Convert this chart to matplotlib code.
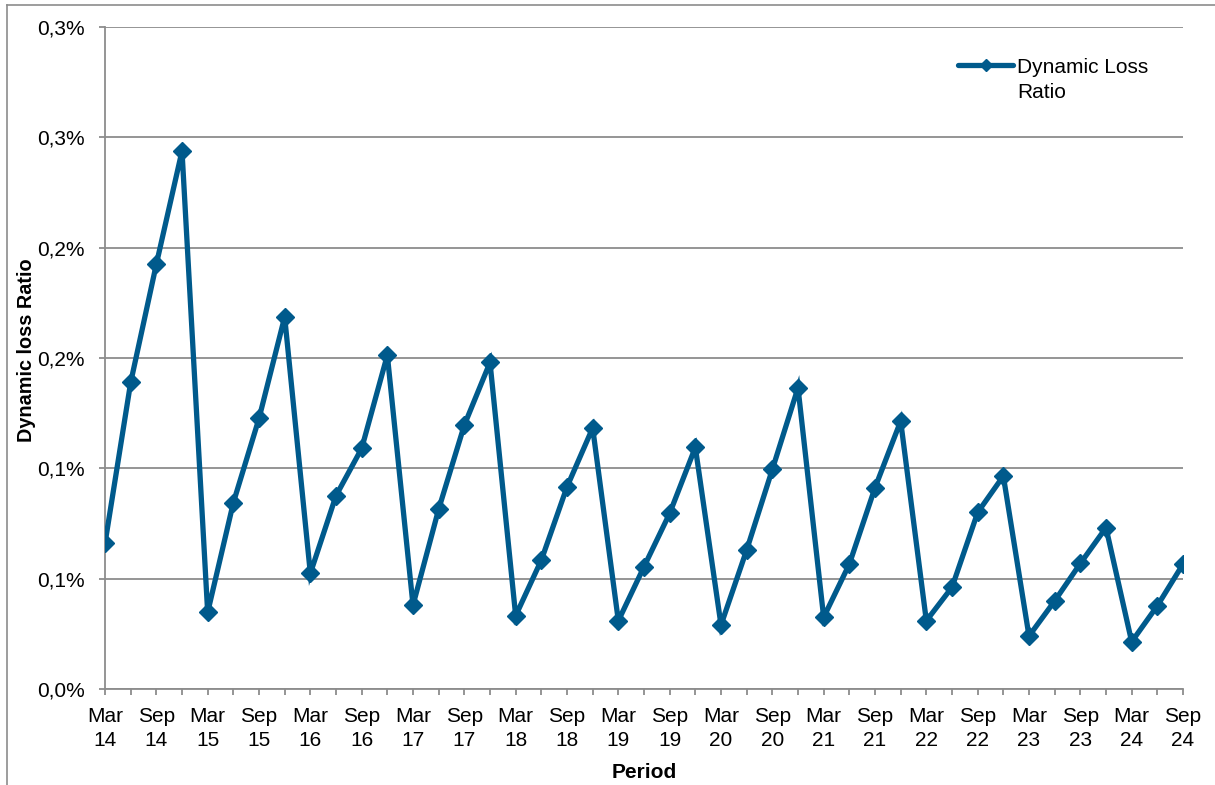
import matplotlib
matplotlib.use("Agg")
import matplotlib.pyplot as plt
from matplotlib.lines import Line2D

# ---- data ----
years = list(range(14, 25))
months = ["Mar", "Jun", "Sep", "Dec"]
periods = [f"{m} {y}" for y in years for m in months][:43]  # Mar 14 .. Sep 24

loss_ratio_pct = [
    0.0660, 0.1389, 0.1925, 0.2438,
    0.0347, 0.0844, 0.1226, 0.1686,
    0.0524, 0.0876, 0.1090, 0.1513,
    0.0380, 0.0815, 0.1196, 0.1480,
    0.0332, 0.0584, 0.0916, 0.1183,
    0.0309, 0.0554, 0.0796, 0.1095,
    0.0290, 0.0630, 0.0995, 0.1365,
    0.0325, 0.0566, 0.0912, 0.1214,
    0.0309, 0.0461, 0.0800, 0.0965,
    0.0240, 0.0399, 0.0569, 0.0731,
    0.0214, 0.0377, 0.0566,
]

y_ticks = [0.0, 0.05, 0.10, 0.15, 0.20, 0.25, 0.30]
y_tick_labels = ["0,0%", "0,1%", "0,1%", "0,2%", "0,2%", "0,3%", "0,3%"]

series_label = "Dynamic Loss\nRatio"
x_title = "Period"
y_title = "Dynamic loss Ratio"

# ---- style ----
plt.rcParams["font.family"] = ["Liberation Sans", "DejaVu Sans"]
LINE_COLOR = "#005A8C"
GRID_COLOR = "#8C8C8C"

W, H = 1215, 785
fig = plt.figure(figsize=(W / 100, H / 100), dpi=100)
ax = fig.add_axes([105 / W, (H - 689) / H, (1183 - 105) / W, (689 - 27) / H])

x = list(range(len(periods)))
ax.plot(x, loss_ratio_pct, color=LINE_COLOR, lw=3.8, marker="D", markersize=9.5,
        solid_joinstyle="miter", zorder=3)

ax.set_xlim(0, len(periods) - 1)
ax.set_ylim(y_ticks[0], y_ticks[-1])
ax.set_yticks(y_ticks)
ax.set_yticklabels(y_tick_labels)

ax.set_xticks(x)
xlabels = [p.replace(" ", "\n") if p.startswith(("Mar", "Sep")) else "" for p in periods]
ax.set_xticklabels(xlabels, linespacing=1.36)

ax.grid(axis="y", color=GRID_COLOR, lw=1.3)
ax.set_axisbelow(True)
for s in ["top", "right"]:
    ax.spines[s].set_visible(False)
for s in ["left", "bottom"]:
    ax.spines[s].set_color(GRID_COLOR)
    ax.spines[s].set_linewidth(1.3)

ax.tick_params(axis="both", colors=GRID_COLOR, labelcolor="black", labelsize=15,
               width=1.3)
ax.tick_params(axis="y", length=4.5, pad=10)
ax.tick_params(axis="x", length=4, pad=9)

ax.set_xlabel(x_title, fontsize=15, fontweight="bold")
ax.set_ylabel(y_title, fontsize=14.3, fontweight="bold")
ax.xaxis.set_label_coords(0.5, -0.112)
ax.yaxis.set_label_coords(-0.064, (689 - 350.5) / 662)

# legend (key on the first text line, as in the original)
def fx(px):
    return px / W

def fy(py):
    return 1 - py / H

fig.add_artist(Line2D([fx(958), fx(1013)], [fy(65), fy(65)], color=LINE_COLOR,
                      lw=3.8, solid_capstyle="round", transform=fig.transFigure))
fig.add_artist(Line2D([fx(985.5)], [fy(65)], color=LINE_COLOR, marker="D",
                      markersize=6, transform=fig.transFigure))
fig.text(fx(1017), fy(97.5), series_label, fontsize=15, ha="left", va="baseline",
         linespacing=1.36)

# outer frame (left and top edges)
fig.add_artist(Line2D([7 / W, 7 / W], [0, 1 - 5 / H], color=GRID_COLOR, lw=1.2,
                      transform=fig.transFigure))
fig.add_artist(Line2D([7 / W, 1], [1 - 5 / H, 1 - 5 / H], color=GRID_COLOR, lw=1.2,
                      transform=fig.transFigure))

fig.savefig("out.png", dpi=100)
